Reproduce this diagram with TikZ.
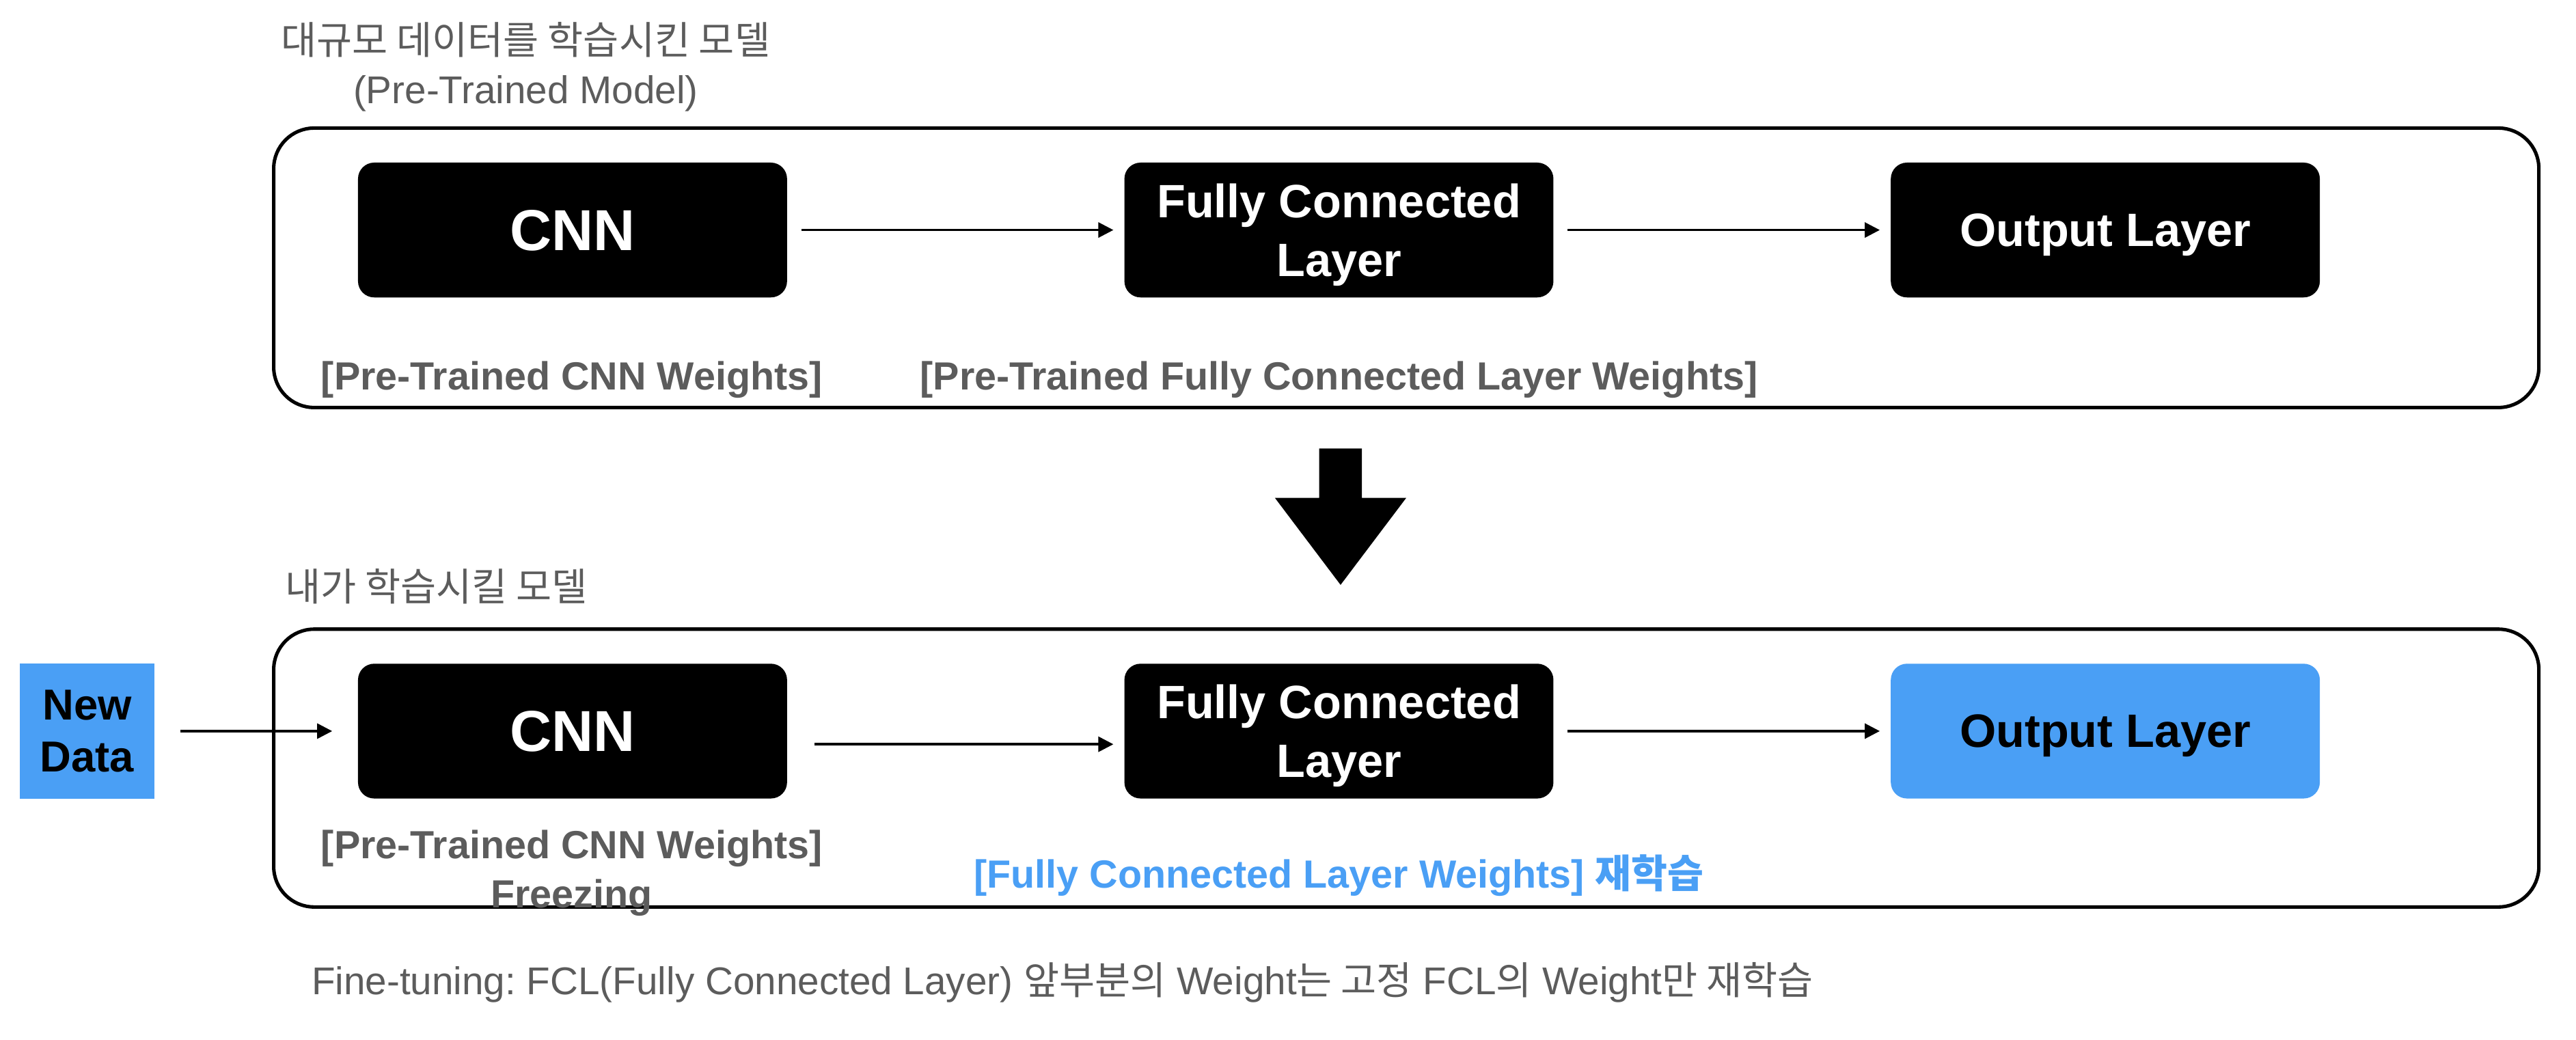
\documentclass[tikz,border=0pt]{standalone}
\usepackage{fontspec}
\setmainfont{Liberation Sans}
\newfontfamily\kr{Noto Sans CJK KR}
\usetikzlibrary{arrows.meta}
\definecolor{ftblue}{RGB}{74,159,245}
\definecolor{ftgray}{RGB}{92,92,92}
\frenchspacing

\begin{document}
\begin{tikzpicture}[x=0.01cm, y=-0.01cm, line width=0.4pt, -{Triangle[length=2.6pt,width=2.6pt]}]
	\useasboundingbox (0,0) rectangle (1568,633);
      \tikzstyle{layer} = [fill=black, text=white, rounded corners=2.8pt, minimum width=2.61cm, minimum height=0.82cm, inner sep=1pt, text depth=0pt, align=center, font=\bfseries\fontsize{8.1}{10.2}\selectfont]
      \tikzstyle{frame} = [draw, line width=0.6pt, rounded corners=7pt, minimum width=13.78cm]
      \tikzstyle{note} = [font=\bfseries\fontsize{6.8}{8.5}\selectfont, text=ftgray, align=center]
      \tikzstyle{title} = [font=\fontsize{6.7}{8.5}\selectfont, text=ftgray]
      \node (bigtitle) at (320,24) [title] {\kr 대규모 데이터를 학습시킨 모델};
      \node (bigsub) at (320,57) [title] {(Pre-Trained Model)};
      \node (pretrained) at (856,163) [frame, minimum height=1.70cm] {};
      \node (cnnA) at (348.5,140) [layer, font=\bfseries\fontsize{10}{12}\selectfont] {CNN};
      \node (fcA) at (815,140) [layer] {Fully Connected\\Layer};
      \node (outA) at (1281.5,140) [layer] {Output Layer};
      \draw[shorten <=0.08cm, shorten >=0.06cm] (cnnA) -- (fcA);
      \draw[shorten <=0.08cm, shorten >=0.06cm] (fcA) -- (outA);
      \node (cnnwA) at (348,231) [note] {[Pre-Trained CNN Weights]};
      \node (fcwA) at (815,231) [note] {[Pre-Trained Fully Connected Layer Weights]};
      \fill (803,273) -- (829,273) -- (829,303) -- (856,303) -- (816,356) -- (776,303) -- (803,303) -- cycle;
      \node (mytitle) at (173,357) [title, anchor=west, inner sep=0] {\kr 내가 학습시킬 모델};
      \node (finetuned) at (856,467.5) [frame, minimum height=1.69cm] {};
      \node (newdata) at (53,445) [fill=ftblue, minimum size=0.82cm, inner sep=0, align=center, font=\bfseries\fontsize{7.5}{9}\selectfont] {New\\Data};
      \node (cnnB) at (348.5,445) [layer, font=\bfseries\fontsize{10}{12}\selectfont] {CNN};
      \node (fcB) at (815,445) [layer] {Fully Connected\\Layer};
      \node (outB) at (1281.5,445) [layer, fill=ftblue, text=black] {Output Layer};
      \draw[shorten <=0.15cm, shorten >=0.15cm] (newdata) -- (cnnB);
      \draw[shorten <=0.16cm, shorten >=0.06cm] ([yshift=-0.08cm]cnnB.east) -- ([yshift=-0.08cm]fcB.west);
      \draw[shorten <=0.08cm, shorten >=0.06cm] (fcB) -- (outB);
      \node (cnnwB) at (348,531.5) [note] {[Pre-Trained CNN Weights]\\Freezing};
      \node (fcwB) at (815,533) [note, text=ftblue] {[Fully Connected Layer Weights] {\kr 재학습}};
      \node (footer) at (189,598) [title, anchor=west, inner sep=0] {Fine-tuning: FCL(Fully Connected Layer) {\kr 앞부분의} Weight{\kr 는 고정} FCL{\kr 의} Weight{\kr 만 재학습}};
    \end{tikzpicture}
\end{document}
